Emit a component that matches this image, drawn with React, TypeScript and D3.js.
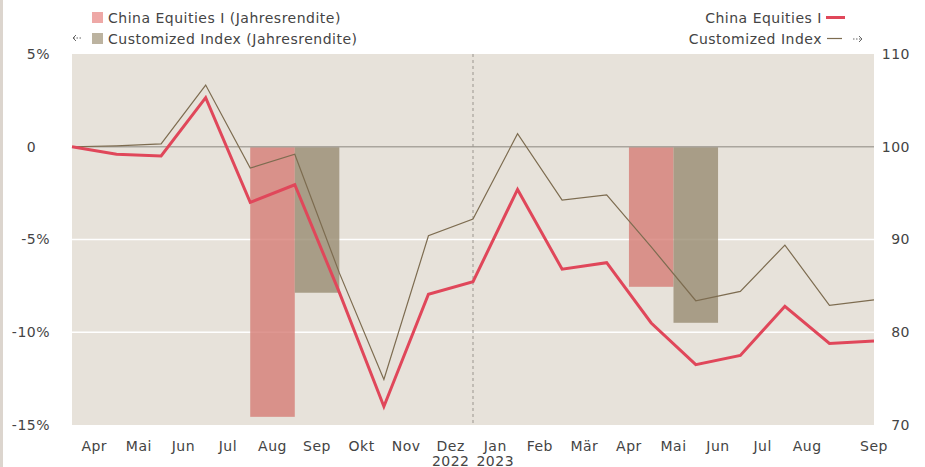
import React, { useEffect, useRef } from "react";
import * as d3 from "d3";

// month-end points, Mar 2022 .. Sep 2023 (index, right axis)
const monthTicks = ["Apr", "Mai", "Jun", "Jul", "Aug", "Sep", "Okt", "Nov", "Dez", "Jan", "Feb", "Mär", "Apr", "Mai", "Jun", "Jul", "Aug", "Sep"];
const yearTicks = ["2022", "2023"];
const chinaEquities = [100, 99.2, 99.0, 105.3, 94.0, 95.9, 84.3, 72.0, 84.1, 85.45, 95.4, 86.8, 87.5, 81.0, 76.5, 77.5, 82.8, 78.8, 79.05];
const customizedIndex = [100, 100.1, 100.3, 106.65, 97.7, 99.2, 86.4, 74.9, 90.4, 92.2, 101.4, 94.25, 94.8, 89.2, 83.4, 84.4, 89.4, 82.9, 83.5];

// annual returns (left axis, %)
const barStart = [4, 12.5];
const chinaAnnual = [-14.56, -7.55];
const indexAnnual = [-7.87, -9.49];

const leftTicks = [5, 0, -5, -10, -15];
const rightTicks = [110, 100, 90, 80, 70];

const W = 925;
const H = 467;
const font = "'DejaVu Sans', Verdana, sans-serif";

const Chart = () => {
    const ref = useRef<SVGSVGElement>(null);

    useEffect(() => {
        const svg = d3.select(ref.current);
        svg.selectAll("*").remove();

        const left = 72, right = 874, top = 54, bottom = 425;

        const x = d3.scaleLinear().domain([0, chinaEquities.length - 1]).range([left, right]);
        const yL = d3.scaleLinear().domain([-15, 5]).range([bottom, top]);
        const yR = d3.scaleLinear().domain([70, 110]).range([bottom, top]);

        svg.append("rect").attr("x", 0).attr("y", 0).attr("width", 3).attr("height", H).attr("fill", "#dcd5ce");

        // plot background
        svg.append("rect")
            .attr("x", left).attr("y", top)
            .attr("width", right - left).attr("height", bottom - top)
            .attr("fill", "#e7e2da");

        // grid
        svg.append("g")
            .selectAll("line")
            .data([-5, -10])
            .join("line")
            .attr("x1", left).attr("x2", right)
            .attr("y1", (d) => yL(d)).attr("y2", (d) => yL(d))
            .attr("stroke", "#ffffff").attr("stroke-width", 1.5);

        // bars
        const bars = svg.append("g");
        barStart.forEach((s, i) => {
            bars.append("rect")
                .attr("x", x(s)).attr("width", x(s + 1) - x(s))
                .attr("y", yL(0)).attr("height", yL(chinaAnnual[i]) - yL(0))
                .attr("fill", "rgb(214,125,118)").attr("fill-opacity", 0.8);
            bars.append("rect")
                .attr("x", x(s + 1)).attr("width", x(s + 2) - x(s + 1))
                .attr("y", yL(0)).attr("height", yL(indexAnnual[i]) - yL(0))
                .attr("fill", "rgb(152,140,114)").attr("fill-opacity", 0.8);
        });

        // zero line
        svg.append("line")
            .attr("x1", left).attr("x2", right)
            .attr("y1", yL(0)).attr("y2", yL(0))
            .attr("stroke", "#aaa59d").attr("stroke-width", 1.5);

        // year boundary
        svg.append("line")
            .attr("x1", x(9)).attr("x2", x(9))
            .attr("y1", top).attr("y2", bottom)
            .attr("stroke", "#9a958e").attr("stroke-dasharray", "3,3");

        const line = (vals: number[]) =>
            d3.line<number>().x((_, i) => x(i)).y((d) => yR(d))(vals);

        svg.append("path")
            .attr("d", line(customizedIndex))
            .attr("fill", "none").attr("stroke", "#7d6c50").attr("stroke-width", 1.2);
        svg.append("path")
            .attr("d", line(chinaEquities))
            .attr("fill", "none").attr("stroke", "#e0475a").attr("stroke-width", 3)
            .attr("stroke-linejoin", "miter");

        const txt = svg.append("g")
            .attr("font-family", font).attr("font-size", 14)
            .attr("letter-spacing", 0.5).attr("fill", "#444");

        // left axis
        leftTicks.forEach((t) => {
            const el = txt.append("text")
                .attr("x", 50).attr("y", yL(t)).attr("dy", "0.35em")
                .attr("text-anchor", "end");
            if (t === 0) {
                el.append("tspan").text("0");
                el.append("tspan").attr("fill-opacity", 0).text("%");
            } else {
                el.text(`${t}%`);
            }
        });

        // right axis
        rightTicks.forEach((t) => {
            txt.append("text")
                .attr("x", 910).attr("y", yR(t)).attr("dy", "0.35em")
                .attr("text-anchor", "end").text(t);
        });

        // month labels
        monthTicks.forEach((m, i) => {
            const pos = i === monthTicks.length - 1 ? i + 1 : i + 0.5;
            txt.append("text")
                .attr("x", x(pos)).attr("y", 451)
                .attr("text-anchor", "middle").text(m);
        });
        yearTicks.forEach((yv, i) => {
            txt.append("text")
                .attr("x", x(8.5 + i)).attr("y", 466)
                .attr("text-anchor", "middle").text(yv);
        });

        // legend left
        svg.append("rect").attr("x", 92).attr("y", 12).attr("width", 11).attr("height", 11).attr("fill", "#eea8a6");
        txt.append("text").attr("x", 108).attr("y", 23).text("China Equities I (Jahresrendite)");
        svg.append("path").attr("d", "M76,35 L73,38 L76,41").attr("fill", "none").attr("stroke", "#666");
        svg.append("path").attr("d", "M73.5,38 H82").attr("stroke", "#666").attr("stroke-dasharray", "1.5,1.5");
        svg.append("rect").attr("x", 92).attr("y", 33).attr("width", 11).attr("height", 11).attr("fill", "#bcb3a0");
        txt.append("text").attr("x", 108).attr("y", 44).text("Customized Index (Jahresrendite)");

        // legend right
        txt.append("text").attr("x", 822).attr("y", 23).attr("text-anchor", "end").text("China Equities I");
        svg.append("line").attr("x1", 826).attr("x2", 845).attr("y1", 17.5).attr("y2", 17.5)
            .attr("stroke", "#e0475a").attr("stroke-width", 3);
        txt.append("text").attr("x", 822).attr("y", 44).attr("text-anchor", "end").text("Customized Index");
        svg.append("line").attr("x1", 827).attr("x2", 842).attr("y1", 38.5).attr("y2", 38.5)
            .attr("stroke", "#7d6c50").attr("stroke-width", 1.2);
        svg.append("path").attr("d", "M853,39 H861.5").attr("stroke", "#666").attr("stroke-dasharray", "1.5,1.5");
        svg.append("path").attr("d", "M859,36 L862,39 L859,42").attr("fill", "none").attr("stroke", "#666");
    }, []);

    return <svg ref={ref} width={W} height={H} style={{ position: "absolute", left: 0, top: 0, background: "#fff" }}></svg>;
};

export default function App() {
    return <Chart />;
}
